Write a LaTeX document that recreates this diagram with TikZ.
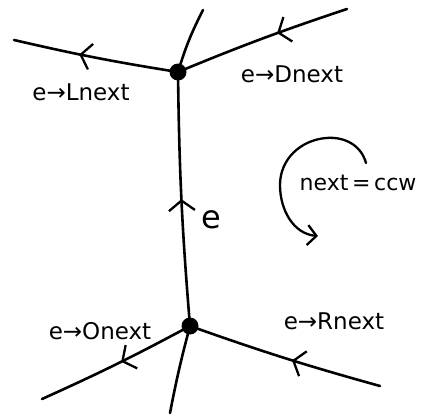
\documentclass[tikz,border=0pt]{standalone}
\usepackage{fontspec}
\setmainfont{DejaVu Sans}
\usetikzlibrary{arrows.meta,decorations.markings}
\begin{document}
\begin{tikzpicture}[x=1pt,y=-1pt,
  edge/.style={line width=2.6pt, line cap=round},
  vtx/.style={circle, fill=black, inner sep=0pt, minimum size=17pt},
  chev/.style={postaction={decorate}, decoration={markings, mark=at position #1 with {\arrow[line width=2.3pt]{Straight Barb[length=10pt,width=26pt]}}}},
  lbl/.style={font=\fontsize{23}{26}\selectfont, inner sep=0pt}]
\useasboundingbox (0,0) rectangle (423,415);
\node[vtx] (top) at (178,72) {};
\node[vtx] (bot) at (190,326) {};
\coordinate (tl) at (14,40);
\coordinate (tu) at (203,10);
\coordinate (tr) at (347,9);
\coordinate (bl) at (42,399);
\coordinate (bd) at (170,413);
\coordinate (br) at (380,386);
% top vertex edges
\draw[edge, chev=0.6] (top.center) to[bend left=2] (tl);
\draw[edge] (top.center) to[bend left=5] (tu);
\draw[edge, chev=0.41] (tr) to[bend right=2] (top.center);
% e
\draw[edge, chev=0.5] (bot.center) to[bend left=2] (top.center);
% bottom vertex edges
\draw[edge, chev=0.47] (bot.center) to[bend left=2] (bl);
\draw[edge] (bot.center) to[bend right=2] (bd);
\draw[edge, chev=0.46] (br) to[bend left=2] (bot.center);
% labels
\node[lbl] (lL) at (81,92) {e→Lnext};
\node[lbl] (lD) at (292,74) {e→Dnext};
\node[lbl, font=\fontsize{32}{34}\selectfont] (le) at (211,220) {e};
\node[lbl] (lO) at (100,331) {e→Onext};
\node[lbl] (lR) at (334,321) {e→Rnext};
\node[lbl, font=\fontsize{22}{26}\selectfont] (lC) at (358,183) {next\,=\,ccw};
% rotation arrow
\coordinate (ca) at (366,163);
\coordinate (cb) at (318,236);
\draw[line width=2.3pt, line cap=round, -{Straight Barb[length=9pt,width=20pt]}]
  (ca) to[out=105,in=5] (326,138) to[out=185,in=90] (280,185) to[out=-90,in=175] (cb);
\end{tikzpicture}
\end{document}
